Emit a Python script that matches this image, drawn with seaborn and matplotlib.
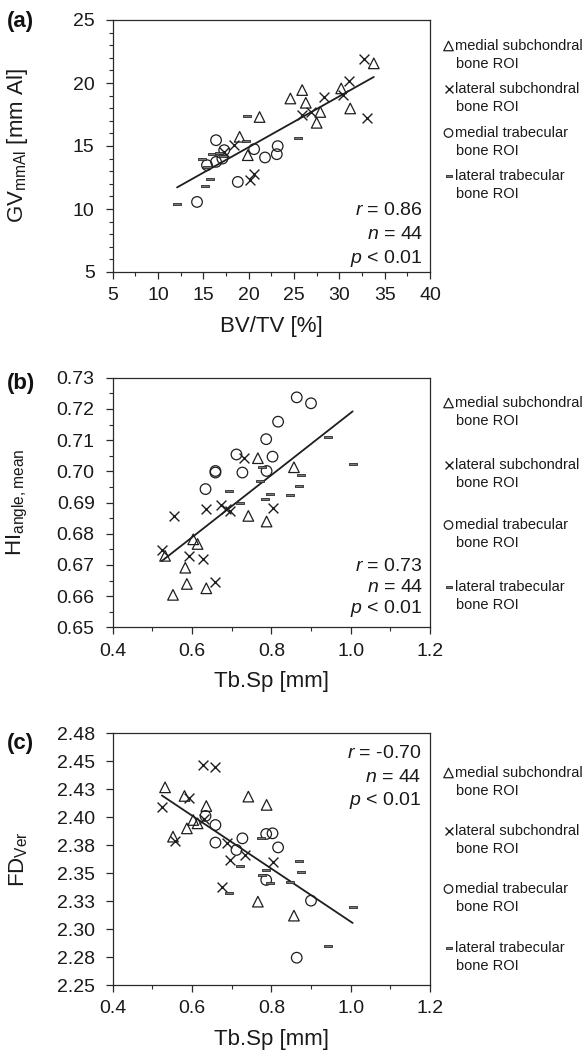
import numpy as np
import pandas as pd
import matplotlib
matplotlib.use("Agg")
import matplotlib.pyplot as plt
import seaborn as sns
from matplotlib.ticker import MultipleLocator, FuncFormatter

# ---------------- data ----------------
group_keys = ["ms", "ls", "mt", "lt"]
group_labels = ["medial subchondral", "lateral subchondral", "medial trabecular", "lateral trabecular"]

# (a) BV/TV [%] vs GV_mmAl [mm Al]
a_ms_x = [33.8, 30.2, 25.9, 24.6, 26.3, 27.9, 31.2, 27.5, 21.2, 19.0, 19.9]
a_ms_y = [21.56, 19.57, 19.44, 18.77, 18.43, 17.70, 17.98, 16.84, 17.30, 15.73, 14.27]
a_ls_x = [32.7, 31.1, 30.4, 28.3, 33.1, 25.9, 26.9, 20.6, 20.1, 18.4, 17.3]
a_ls_y = [21.87, 20.15, 19.04, 18.90, 17.26, 17.45, 17.70, 12.80, 12.30, 15.07, 14.50]
a_mt_x = [14.3, 16.4, 15.4, 16.4, 17.1, 17.3, 18.8, 20.6, 21.8, 23.2, 23.1]
a_mt_y = [10.56, 15.46, 13.48, 13.74, 14.00, 14.67, 12.15, 14.75, 14.09, 14.99, 14.35]
a_lt_x = [12.1, 15.2, 15.7, 14.8, 16.0, 19.8, 19.7, 25.4, 15.4, 16.7, 17.2]
a_lt_y = [10.38, 11.81, 12.36, 13.95, 14.35, 17.40, 15.38, 15.60, 13.30, 14.45, 14.20]

# (b) Tb.Sp [mm] vs HI_angle,mean
b_ms_x = [0.766, 0.857, 0.742, 0.788, 0.603, 0.614, 0.532, 0.583, 0.587, 0.636, 0.552]
b_ms_y = [0.7042, 0.7013, 0.6857, 0.6839, 0.6782, 0.6767, 0.6729, 0.6691, 0.6639, 0.6625, 0.6604]
b_ls_x = [0.731, 0.554, 0.636, 0.673, 0.685, 0.695, 0.803, 0.524, 0.592, 0.628, 0.659]
b_ls_y = [0.7042, 0.6858, 0.6879, 0.6892, 0.6880, 0.6873, 0.6881, 0.6748, 0.6729, 0.6718, 0.6646]
b_mt_x = [0.864, 0.900, 0.817, 0.787, 0.712, 0.803, 0.659, 0.659, 0.727, 0.788, 0.634]
b_mt_y = [0.7237, 0.7218, 0.7159, 0.7103, 0.7054, 0.7047, 0.7001, 0.6996, 0.6996, 0.7001, 0.6943]
b_lt_x = [0.942, 1.005, 0.876, 0.870, 0.847, 0.777, 0.771, 0.693, 0.721, 0.797, 0.784]
b_lt_y = [0.7111, 0.7025, 0.6988, 0.6954, 0.6924, 0.7015, 0.6970, 0.6938, 0.6897, 0.6926, 0.6910]

# (c) Tb.Sp [mm] vs FD_Ver
c_ms_x = [0.532, 0.581, 0.742, 0.788, 0.636, 0.552, 0.587, 0.603, 0.614, 0.766, 0.857]
c_ms_y = [2.4267, 2.4190, 2.4184, 2.4110, 2.4100, 2.3826, 2.3900, 2.3975, 2.3945, 2.3245, 2.3120]
c_ls_x = [0.628, 0.659, 0.524, 0.592, 0.556, 0.689, 0.697, 0.733, 0.803, 0.676, 0.630]
c_ls_y = [2.4467, 2.4452, 2.4088, 2.4169, 2.3790, 2.3767, 2.3618, 2.3662, 2.3603, 2.3373, 2.3980]
c_mt_x = [0.634, 0.659, 0.659, 0.727, 0.712, 0.787, 0.803, 0.817, 0.787, 0.900, 0.864]
c_mt_y = [2.4011, 2.3930, 2.3773, 2.3811, 2.3707, 2.3850, 2.3856, 2.3730, 2.3439, 2.3254, 2.2744]
c_lt_x = [0.773, 0.720, 0.870, 0.876, 0.847, 0.786, 0.777, 0.797, 0.693, 1.005, 0.942]
c_lt_y = [2.3811, 2.3564, 2.3612, 2.3513, 2.3418, 2.3528, 2.3483, 2.3409, 2.3320, 2.3200, 2.2849]

stats_a = ["0.86", "44", "< 0.01"]
stats_b = ["0.73", "44", "< 0.01"]
stats_c = ["-0.70", "44", "< 0.01"]

xlabels = ["BV/TV [%]", "Tb.Sp [mm]", "Tb.Sp [mm]"]
ylabels = [r"GV$_{\mathrm{mmAl}}$ [mm Al]", r"HI$_{\mathrm{angle,mean}}$", r"FD$_{\mathrm{Ver}}$"]
panel_tags = ["(a)", "(b)", "(c)"]


def frame(xs, ys):
    rows = []
    for key, xv, yv in zip(group_keys, xs, ys):
        for xi, yi in zip(xv, yv):
            rows.append((key, xi, yi))
    return pd.DataFrame(rows, columns=["group", "x", "y"])


df_a = frame([a_ms_x, a_ls_x, a_mt_x, a_lt_x], [a_ms_y, a_ls_y, a_mt_y, a_lt_y])
df_b = frame([b_ms_x, b_ls_x, b_mt_x, b_lt_x], [b_ms_y, b_ls_y, b_mt_y, b_lt_y])
df_c = frame([c_ms_x, c_ls_x, c_mt_x, c_lt_x], [c_ms_y, c_ls_y, c_mt_y, c_lt_y])

# ---------------- style ----------------
sns.set_style("ticks")
plt.rcParams["font.family"] = ["Liberation Sans", "DejaVu Sans"]
plt.rcParams["mathtext.fontset"] = "custom"
plt.rcParams["mathtext.rm"] = "Liberation Sans"
plt.rcParams["mathtext.it"] = "Liberation Sans:italic"
plt.rcParams["mathtext.default"] = "regular"

dark = "#1e1e1e"
dash_marker = [(-1, -0.38), (1, -0.38), (1, 0.38), (-1, 0.38), (-1, -0.38)]


def mstyle(key, scale=1.0):
    if key == "ms":
        return dict(marker="^", s=58 * scale, color=dark, facecolor="none", edgecolor=dark, linewidth=0.9)
    if key == "ls":
        return dict(marker="x", s=50 * scale, color=dark, linewidth=1.0)
    if key == "mt":
        return dict(marker="o", s=58 * scale, color=dark, facecolor="none", edgecolor=dark, linewidth=0.9)
    return dict(marker=dash_marker, s=30 * scale, color="#7a7a7a", facecolor="#7a7a7a", edgecolor="#2a2a2a", linewidth=0.6)


fig = plt.figure(figsize=(5.84, 10.5), dpi=100)
W, H = 584.0, 1050.0

# axes boxes in pixels: left, top, right, bottom
boxes = [(112.7, 20.0, 430.0, 272.0), (112.7, 377.7, 430.0, 627.3), (112.7, 733.3, 430.0, 985.0)]
axes = []
for (l, t, r, b) in boxes:
    axes.append(fig.add_axes([l / W, 1 - b / H, (r - l) / W, (b - t) / H]))

dfs = [df_a, df_b, df_c]
stats = [stats_a, stats_b, stats_c]

for ax, df in zip(axes, dfs):
    for key in group_keys:
        sub = df[df["group"] == key]
        sns.scatterplot(data=sub, x="x", y="y", ax=ax, legend=False, zorder=3, **mstyle(key))
    sns.regplot(data=df, x="x", y="y", ax=ax, scatter=False, ci=None, truncate=True,
                color=dark, line_kws=dict(lw=1.3, zorder=2))

# limits & ticks
axes[0].set_xlim(5, 40); axes[0].set_ylim(5, 25)
axes[0].xaxis.set_major_locator(MultipleLocator(5)); axes[0].xaxis.set_minor_locator(MultipleLocator(2.5))
axes[0].yaxis.set_major_locator(MultipleLocator(5)); axes[0].yaxis.set_minor_locator(MultipleLocator(1))

axes[1].set_xlim(0.4, 1.2); axes[1].set_ylim(0.65, 0.73)
axes[1].xaxis.set_major_locator(MultipleLocator(0.2)); axes[1].xaxis.set_minor_locator(MultipleLocator(0.1))
axes[1].yaxis.set_major_locator(MultipleLocator(0.01)); axes[1].yaxis.set_minor_locator(MultipleLocator(0.005))
axes[1].xaxis.set_major_formatter(FuncFormatter(lambda v, p: f"{v + 1e-9:.1f}"))
axes[1].yaxis.set_major_formatter(FuncFormatter(lambda v, p: f"{v + 1e-9:.2f}"))

axes[2].set_xlim(0.4, 1.2); axes[2].set_ylim(2.25, 2.475)
axes[2].xaxis.set_major_locator(MultipleLocator(0.2)); axes[2].xaxis.set_minor_locator(MultipleLocator(0.1))
axes[2].yaxis.set_major_locator(MultipleLocator(0.025))
axes[2].xaxis.set_major_formatter(FuncFormatter(lambda v, p: f"{v + 1e-9:.1f}"))
axes[2].yaxis.set_major_formatter(FuncFormatter(lambda v, p: f"{v + 1e-6:.2f}"))

stat_pos = [(0.978, [0.226, 0.131, 0.036]), (0.978, [0.227, 0.143, 0.056]), (0.974, [0.900, 0.808, 0.715])]

for i, ax in enumerate(axes):
    for sp in ax.spines.values():
        sp.set_visible(True)
        sp.set_color("#2a2a2a")
        sp.set_linewidth(0.9)
    ax.tick_params(which="major", direction="out", length=5, width=0.9, color="#2a2a2a",
                   labelsize=14, labelcolor="#1a1a1a")
    ax.tick_params(which="minor", direction="out", length=3.2, width=0.8, color="#2a2a2a")
    ax.tick_params(axis="x", which="major", pad=6)
    ax.tick_params(axis="y", which="major", pad=8)
    ax.set_xlabel(xlabels[i], fontsize=16, color="#1a1a1a")
    ax.set_ylabel(ylabels[i], fontsize=16, color="#1a1a1a")
    ax.xaxis.set_label_coords(0.5, -0.175)
    ax.yaxis.set_label_coords(-0.26, 0.5)
    sx, sys_ = stat_pos[i]
    names = [r"$\mathit{r}$ = ", r"$\mathit{n}$ = ", r"$\mathit{p}$ "]
    for nm, val, yy in zip(names, stats[i], sys_):
        ax.text(sx, yy, nm + val, transform=ax.transAxes, ha="right", va="baseline",
                fontsize=14, color="#1a1a1a")

# overlay for panel tags and legends (pixel coordinates)
ov = fig.add_axes([0, 0, 1, 1], facecolor="none")
ov.set_xlim(0, W); ov.set_ylim(H, 0); ov.axis("off")

tag_y = [22, 383, 743]
for tag, ty in zip(panel_tags, tag_y):
    ov.text(7, ty, tag, fontsize=16, fontweight="bold", ha="left", va="center", color="#111111")

legend_rows = [[46, 89, 133, 176], [403, 465, 525, 587], [773, 831, 889, 948]]
legend_scale = {"ms": 0.8, "ls": 0.65, "mt": 0.65, "lt": 0.75}
for rows in legend_rows:
    for key, lab, ry in zip(group_keys, group_labels, rows):
        ov.scatter([448.5], [ry], zorder=3, **mstyle(key, scale=legend_scale[key]))
        ov.text(455, ry, lab, fontsize=10.5, ha="left", va="center", color="#1a1a1a")
        ov.text(456, ry + 18, "bone ROI", fontsize=10.5, ha="left", va="center", color="#1a1a1a")

fig.savefig("out.png", dpi=100)
